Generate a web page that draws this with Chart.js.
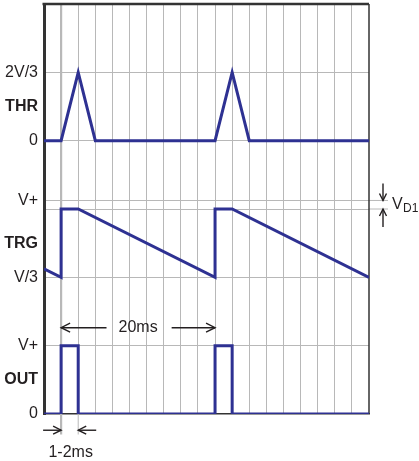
<!DOCTYPE html>
<html>
<head>
<meta charset="utf-8">
<script src="https://cdn.jsdelivr.net/npm/chart.js@4"></script>
<style>
  html, body { margin: 0; padding: 0; background: #fff; }
  #wrap { width: 419px; height: 461px; }
</style>
</head>
<body>
<div id="wrap"><canvas id="myChart"></canvas></div>
<script>
// time runs in grid divisions (20ms = 9 divisions)
const thrTime = [0, 1, 2, 3, 10, 11, 12, 19];
const thrLevel = [16, 16, 20, 16, 16, 20, 16, 16];

const trgTime = [0, 1, 1, 2, 10, 10, 11, 19];
const trgLevel = [8.5, 8, 12, 12, 8, 12, 12, 8];

const outTime = [0, 1, 1, 2, 2, 10, 10, 11, 11, 19];
const outLevel = [0, 0, 4, 4, 0, 0, 4, 4, 0, 0];

const yTickValues = [0, 2, 4, 8, 10, 12, 12.5, 16, 18, 20];
const yTickLabels = ['0', 'OUT', 'V+', 'V/3', 'TRG', '', 'V+', '0', 'THR', '2V/3'];
const boldTicks = [2, 10, 18];
const gridTicks = [4, 8, 12, 12.5, 16, 20];

const FONT = "'Liberation Sans', Arial, sans-serif";
const BLUE = '#2e3192';
const GRID = '#b8b8b8';
const DARK = '#333';
const TEXT = '#231f20';
const NONE = 'rgba(0,0,0,0)';

function toPoints(xs, ys) {
  return xs.map((x, i) => ({ x: x, y: ys[i] }));
}

function tickVal(c) {
  return c && c.tick ? c.tick.value : null;
}

function head(ctx, x, y, dir, len, half) {
  ctx.beginPath();
  if (dir === 'left') { ctx.moveTo(x + len, y - half); ctx.lineTo(x, y); ctx.lineTo(x + len, y + half); }
  if (dir === 'right') { ctx.moveTo(x - len, y - half); ctx.lineTo(x, y); ctx.lineTo(x - len, y + half); }
  if (dir === 'up') { ctx.moveTo(x - half, y + len); ctx.lineTo(x, y); ctx.lineTo(x + half, y + len); }
  if (dir === 'down') { ctx.moveTo(x - half, y - len); ctx.lineTo(x, y); ctx.lineTo(x + half, y - len); }
  ctx.stroke();
}

function line(ctx, x1, y1, x2, y2) {
  ctx.beginPath();
  ctx.moveTo(x1, y1);
  ctx.lineTo(x2, y2);
  ctx.stroke();
}

const annotations = {
  id: 'annotations',
  beforeDatasetsDraw(chart) {
    const { ctx, chartArea: a, scales: { x, y } } = chart;
    ctx.save();
    // grid extensions
    ctx.strokeStyle = GRID;
    ctx.lineWidth = 1;
    line(ctx, a.right, y.getPixelForValue(12.5), a.right + 19, y.getPixelForValue(12.5));
    line(ctx, a.right, y.getPixelForValue(12), a.right + 19, y.getPixelForValue(12));
    ctx.lineWidth = 2.2;
    line(ctx, x.getPixelForValue(1), a.bottom, x.getPixelForValue(1), y.getPixelForValue(-1.2));
    ctx.lineWidth = 1;
    line(ctx, x.getPixelForValue(2), a.bottom, x.getPixelForValue(2), y.getPixelForValue(-1.2));
    // top and right frame
    ctx.strokeStyle = DARK;
    ctx.lineWidth = 2.5;
    line(ctx, a.left - 1.5, a.top, a.right, a.top);
    ctx.lineWidth = 1.5;
    line(ctx, a.right, a.top, a.right, a.bottom);
    ctx.restore();
  },
  afterDraw(chart) {
    const { ctx, chartArea: a, scales: { x, y } } = chart;
    ctx.save();
    ctx.strokeStyle = TEXT;
    ctx.fillStyle = TEXT;
    ctx.lineWidth = 1.4;
    ctx.textBaseline = 'middle';

    // 20ms span
    const x1 = x.getPixelForValue(1), x10 = x.getPixelForValue(10);
    const ya = y.getPixelForValue(5.05);
    const mid = (x1 + x10) / 2;
    ctx.font = '16px ' + FONT;
    ctx.textAlign = 'center';
    ctx.fillText('20ms', mid, ya);
    const tw = ctx.measureText('20ms').width;
    line(ctx, x1, ya, mid - tw / 2 - 12, ya);
    line(ctx, mid + tw / 2 + 14, ya, x10, ya);
    head(ctx, x1, ya, 'left', 9, 4.5);
    head(ctx, x10, ya, 'right', 9, 4.5);

    // 1-2ms
    const x2 = x.getPixelForValue(2);
    const yb = y.getPixelForValue(-0.95);
    line(ctx, x1 - 18, yb, x1, yb);
    head(ctx, x1, yb, 'right', 8, 4);
    line(ctx, x2 + 18, yb, x2, yb);
    head(ctx, x2, yb, 'left', 8, 4);
    ctx.fillText('1-2ms', (x1 + x2) / 2 + 1, y.getPixelForValue(-2.25));

    // VD1
    const xv = a.right + 14;
    const yTop = y.getPixelForValue(12.5), yBot = y.getPixelForValue(12);
    line(ctx, xv, yTop - 17, xv, yTop);
    head(ctx, xv, yTop, 'down', 7, 3.5);
    line(ctx, xv, yBot + 18, xv, yBot);
    head(ctx, xv, yBot, 'up', 7, 3.5);
    ctx.textAlign = 'left';
    ctx.font = '16px ' + FONT;
    ctx.fillText('V', a.right + 23, (yTop + yBot) / 2);
    ctx.font = '12px ' + FONT;
    ctx.fillText('D1', a.right + 34, (yTop + yBot) / 2 + 4);
    ctx.restore();
  }
};

const ctx = document.getElementById('myChart');
const config = {
  type: 'line',
  data: {
    datasets: [
      { label: 'THR', data: toPoints(thrTime, thrLevel) },
      { label: 'TRG', data: toPoints(trgTime, trgLevel) },
      { label: 'OUT', data: toPoints(outTime, outLevel) }
    ]
  },
  options: {
    responsive: true,
    maintainAspectRatio: false,
    animation: false,
    layout: { padding: { top: 4, right: 50, left: 0, bottom: 0 } },
    elements: {
      line: { borderColor: BLUE, borderWidth: 3, tension: 0, borderJoinStyle: 'miter', borderCapStyle: 'butt' },
      point: { radius: 0 }
    },
    plugins: {
      legend: { display: false },
      tooltip: { enabled: false }
    },
    scales: {
      x: {
        type: 'linear',
        min: 0,
        max: 19,
        ticks: { stepSize: 1, display: false },
        afterFit: s => { s.height = 47; s.paddingLeft = 0; s.paddingRight = 0; },
        grid: {
          drawTicks: false,
          color: c => { const v = tickVal(c); return (v === null || v === 0 || v === 19) ? NONE : GRID; },
          lineWidth: c => tickVal(c) === 1 ? 2.2 : 1
        },
        border: { color: DARK, width: 1.5 }
      },
      y: {
        type: 'linear',
        min: 0,
        max: 24,
        afterBuildTicks: s => { s.ticks = yTickValues.map(v => ({ value: v })); },
        afterFit: s => { s.width = 44; s.paddingTop = 0; s.paddingBottom = 0; },
        ticks: {
          padding: 6,
          color: TEXT,
          callback: v => yTickLabels[yTickValues.indexOf(v)],
          font: c => ({ family: FONT, size: 16, weight: boldTicks.includes(tickVal(c)) ? 'bold' : 'normal' })
        },
        grid: {
          drawTicks: false,
          color: c => gridTicks.includes(tickVal(c)) ? GRID : NONE,
          lineWidth: 1
        },
        border: { color: DARK, width: 3 }
      }
    }
  },
  plugins: [annotations]
};

new Chart(ctx, config);
</script>
</body>
</html>
